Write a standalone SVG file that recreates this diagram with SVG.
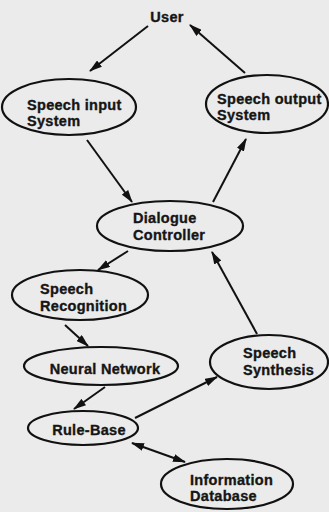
<svg xmlns="http://www.w3.org/2000/svg" width="329" height="512" viewBox="0 0 329 512">
  <defs>
    <marker id="arrow" viewBox="0 0 13 8" refX="12" refY="4" markerWidth="13" markerHeight="8" markerUnits="userSpaceOnUse" orient="auto-start-reverse">
      <path d="M0,0 L13,4 L0,8 z" fill="#111"/>
    </marker>
    <style>
      .node ellipse { fill: none; stroke: #111; stroke-width: 2.2; }
      .node text { font-family: "Liberation Sans", Arial, sans-serif; font-weight: bold; font-size: 14.5px; fill: #151515; stroke: #151515; stroke-width: 0.35px; letter-spacing: 0.3px; }
      .edge { fill: none; stroke: #111; stroke-width: 2; marker-end: url(#arrow); }
    </style>
  </defs>

  <rect width="329" height="512" fill="#ebebeb"/>

  <!-- connectors -->
  <g id="connectors">
    <line class="edge" x1="148" y1="26" x2="90" y2="71"/>
    <line class="edge" x1="245" y1="73" x2="190" y2="25"/>
    <line class="edge" x1="87" y1="140" x2="132" y2="202"/>
    <line class="edge" x1="213" y1="202" x2="246" y2="139"/>
    <line class="edge" x1="128" y1="251" x2="98" y2="270"/>
    <line class="edge" x1="65" y1="325" x2="88" y2="346"/>
    <line class="edge" x1="105" y1="387" x2="74" y2="409"/>
    <line class="edge" x1="135" y1="418" x2="217" y2="377"/>
    <line class="edge" x1="257" y1="334" x2="212" y2="252"/>
    <line class="edge" x1="132" y1="443" x2="185" y2="462" style="marker-start: url(#arrow)"/>
  </g>

  <!-- nodes -->
  <g id="user" class="node">
    <text x="167" y="22" text-anchor="middle">User</text>
  </g>

  <g id="speech-input" class="node">
    <ellipse cx="69" cy="107" rx="67" ry="28"/>
    <text x="27" y="110">Speech input</text>
    <text x="27" y="126">System</text>
  </g>

  <g id="speech-output" class="node">
    <ellipse cx="267" cy="104" rx="61" ry="29"/>
    <text x="217" y="104">Speech output</text>
    <text x="217" y="120">System</text>
  </g>

  <g id="dialogue-controller" class="node">
    <ellipse cx="170" cy="226" rx="73" ry="25"/>
    <text x="133" y="223">Dialogue</text>
    <text x="133" y="240">Controller</text>
  </g>

  <g id="speech-recognition" class="node">
    <ellipse cx="80" cy="295" rx="68" ry="25"/>
    <text x="40" y="294">Speech</text>
    <text x="40" y="311">Recognition</text>
  </g>

  <g id="neural-network" class="node">
    <ellipse cx="101" cy="366" rx="77" ry="19"/>
    <text x="105" y="374" text-anchor="middle">Neural Network</text>
  </g>

  <g id="speech-synthesis" class="node">
    <ellipse cx="269" cy="362" rx="59" ry="27"/>
    <text x="243" y="358">Speech</text>
    <text x="243" y="375">Synthesis</text>
  </g>

  <g id="rule-base" class="node">
    <ellipse cx="83" cy="428" rx="55" ry="17"/>
    <text x="89" y="435" text-anchor="middle">Rule-Base</text>
  </g>

  <g id="information-database" class="node">
    <ellipse cx="227" cy="484" rx="66" ry="25"/>
    <text x="190" y="485">Information</text>
    <text x="190" y="501">Database</text>
  </g>
</svg>
